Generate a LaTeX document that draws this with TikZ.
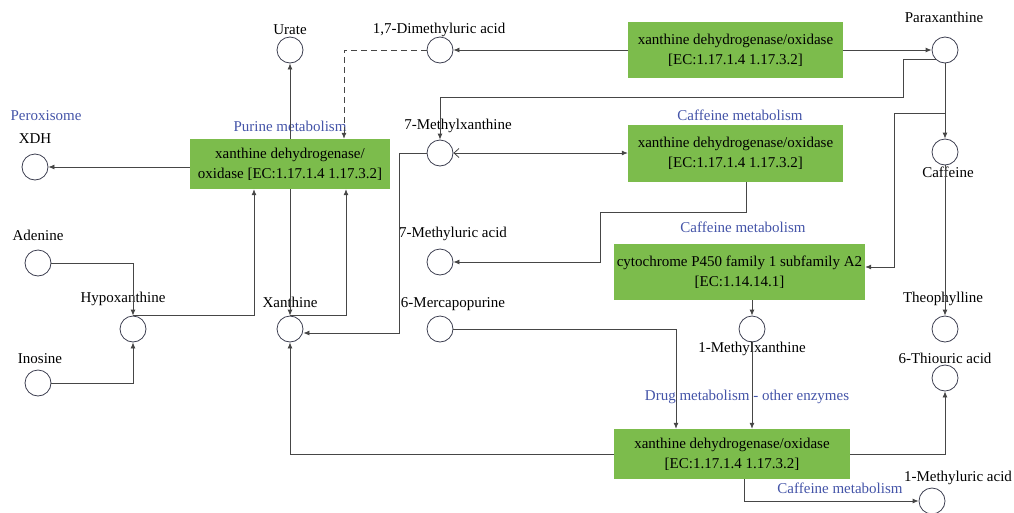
\documentclass[tikz,border=0pt]{standalone}
\usepackage{fontspec}
\setmainfont{Liberation Serif}
\usetikzlibrary{arrows.meta}
\definecolor{enzgreen}{RGB}{124,188,76}
\definecolor{pathblue}{RGB}{68,84,168}
\definecolor{linec}{RGB}{70,70,70}
\definecolor{circc}{RGB}{60,62,80}
\newcommand{\txt}{\fontsize{15}{20}\selectfont}
\tikzset{
  met/.style={circle, draw=circc, line width=0.8pt, minimum size=26pt, inner sep=0pt},
  enz/.style={fill=enzgreen, align=center, inner sep=0pt, font=\txt},
  lbl/.style={font=\txt, inner sep=0pt},
  pw/.style={font=\txt, text=pathblue, inner sep=0pt},
  link/.style={draw=linec, line width=0.8pt, -{Latex[length=6pt,width=5pt]}},
}
\begin{document}
\begin{tikzpicture}[x=1pt, y=-1pt]
\useasboundingbox (0,0) rectangle (1014,512);

% enzyme boxes
\node[enz, minimum width=200pt, minimum height=50pt] (boxA) at (290,164)
  {xanthine dehydrogenase/\\oxidase [EC:1.17.1.4 1.17.3.2]};
\node[enz, minimum width=215pt, minimum height=56pt] (boxB) at (735.5,50)
  {xanthine dehydrogenase/oxidase\\{[EC:1.17.1.4 1.17.3.2]}};
\node[enz, minimum width=215pt, minimum height=57pt] (boxC) at (735.5,153.5)
  {xanthine dehydrogenase/oxidase\\{[EC:1.17.1.4 1.17.3.2]}};
\node[enz, minimum width=251pt, minimum height=56pt] (boxD) at (739.5,272)
  {cytochrome P450 family 1 subfamily A2\\{[EC:1.14.14.1]}};
\node[enz, minimum width=236pt, minimum height=50pt] (boxE) at (732,454)
  {xanthine dehydrogenase/oxidase\\{[EC:1.17.1.4 1.17.3.2]}};

% compounds
\node[met] (urate) at (290,50) {};
\node[met] (dmu)   at (440,50) {};
\node[met] (para)  at (945,50) {};
\node[met] (xdh)   at (35,167) {};
\node[met] (mx7)   at (440,153) {};
\node[met] (caf)   at (945,152) {};
\node[met] (ade)   at (38,263) {};
\node[met] (hypo)  at (133,329) {};
\node[met] (ino)   at (38,383) {};
\node[met] (xan)   at (290,329) {};
\node[met] (mu7)   at (440,262) {};
\node[met] (mp6)   at (440,329) {};
\node[met] (mx1)   at (752,329) {};
\node[met] (theo)  at (945,329) {};
\node[met] (tu6)   at (945,378) {};
\node[met] (mu1)   at (932,501) {};

% compound names
\node[lbl] (tUrate) at (290,30) {Urate};
\node[lbl] (tDmu) at (439,30) {1,7-Dimethyluric acid};
\node[lbl] (tPara) at (944,17) {Paraxanthine};
\node[lbl] (tXdh) at (35,139) {XDH};
\node[lbl] (tMx7) at (458,126) {7-Methylxanthine};
\node[lbl] (tCaf) at (948,172) {Caffeine};
\node[lbl] (tAde) at (38,235) {Adenine};
\node[lbl] (tHypo) at (123,299) {Hypoxanthine};
\node[lbl] (tIno) at (40,359) {Inosine};
\node[lbl] (tXan) at (290,302) {Xanthine};
\node[lbl] (tMu7) at (453,234) {7-Methyluric acid};
\node[lbl] (tMp6) at (453,304) {6-Mercapopurine};
\node[lbl] (tMx1) at (752,349) {1-Methylxanthine};
\node[lbl] (tTheo) at (943,299) {Theophylline};
\node[lbl] (tTu6) at (945,358) {6-Thiouric acid};
\node[lbl] (tMu1) at (958,478) {1-Methyluric acid};

% pathway names
\node[pw] (pPerox) at (46,116) {Peroxisome};
\node[pw] (pPurine) at (290,126) {Purine metabolism};
\node[pw] (pCafC) at (740,115) {Caffeine metabolism};
\node[pw] (pCafD) at (743,227) {Caffeine metabolism};
\node[pw] (pDrug) at (747,397) {Drug metabolism - other enzymes};
\node[pw] (pCafE) at (840,488) {Caffeine metabolism};

% branch points
\coordinate (cb) at (945,113);
\coordinate (c600) at (600,212);
\coordinate (p1) at (903,97);

% reactions
\draw[link] (boxB.west) -- (dmu.east);
\draw[link, dash pattern=on 6pt off 4pt] (dmu.west) -| ([xshift=54pt]boxA.north);
\draw[link] (boxB.east) -- (para.west);
\draw[link] (para.225) -| (p1) -| (mx7.north);
\draw[draw=linec, line width=0.8pt, {Straight Barb[length=5pt,width=9pt]}-{Latex[length=6pt,width=5pt]}] (mx7.east) -- (mx7.east -| boxC.west);
\draw[link] (mx7.west) -- ++(-27,0) |- ([yshift=-4pt]xan.east);
\draw[link] (boxA.north) -- (urate.south);
\draw[link] (boxA.south) -- (xan.north);
\draw[link] (boxA.west |- xdh.east) -- (xdh.east);
\draw[link] (hypo.north) -| ([xshift=-36pt]boxA.south);
\draw[link] (xan.north) -| ([xshift=56pt]boxA.south);
\draw[link] (ade.east) -| (hypo.north);
\draw[link] (ino.east) -| (hypo.south);
\draw[link] ([xshift=10.5pt]boxC.south) |- (c600) |- (mu7.east);
\draw[link] (para.south) -- (caf.north);
\draw[link] (cb) -- ++(-51,0) |- ([yshift=5pt]boxD.east);
\draw[link] (caf.south) -- (theo.north);
\draw[link] (boxD.south -| mx1.north) -- (mx1.north);
\draw[link] (mx1.south) -- (boxE.north -| mx1.south);
\draw[link] (mp6.east) -| ([xshift=-56pt]boxE.north);
\draw[link] (boxE.east) -| (tu6.south);
\draw[link] ([xshift=12pt]boxE.south) |- (mu1.west);
\draw[link] (boxE.west) -| (xan.south);
\end{tikzpicture}
\end{document}
